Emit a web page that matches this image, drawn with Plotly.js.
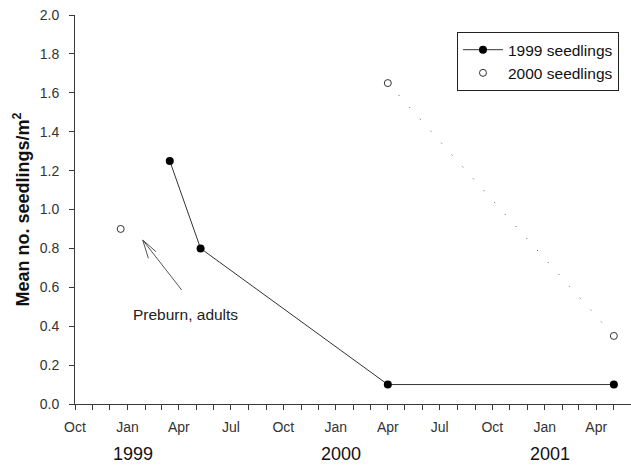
<!DOCTYPE html>
<html>
<head>
<meta charset="utf-8">
<script src="https://cdn.plot.ly/plotly-3.0.1.min.js"></script>
<style>
  html, body { margin: 0; padding: 0; background: #fff; }
  #chart { width: 631px; height: 465px; }
</style>
</head>
<body>
<div id="chart"></div>
<script>
// ---- data ----
const dates1999 = ['1999-03-16', '1999-05-09', '2000-04-01', '2001-05-02'];
const values1999 = [1.25, 0.80, 0.10, 0.10];
const dates2000 = ['2000-04-01', '2001-05-02'];
const values2000 = [1.65, 0.35];
const preburnDates = ['1998-12-20'];
const preburnValues = [0.90];
const yearLabels = ['1999', '2000', '2001'];
const yearLabelDates = ['1999-01-10', '2000-01-10', '2001-01-10'];

const FONT = 'Liberation Sans, Arial, sans-serif';
const AXIS_COLOR = '#3a3a3a';

const traces = [
  {
    x: dates1999, y: values1999, name: '1999 seedlings',
    mode: 'lines+markers', type: 'scatter',
    line: { color: '#333', width: 1 },
    marker: { color: '#000', size: 8, symbol: 'circle' }
  },
  {
    x: dates2000, y: values2000, name: '2000 seedlings line',
    mode: 'lines', type: 'scatter', showlegend: false, hoverinfo: 'skip',
    line: { color: '#444', width: 1, dash: '1px,15px' }
  },
  {
    x: dates2000, y: values2000, name: '2000 seedlings',
    mode: 'markers', type: 'scatter',
    marker: { color: '#fff', size: 7, symbol: 'circle', line: { color: '#333', width: 1 } }
  },
  {
    x: preburnDates, y: preburnValues, name: 'Preburn, adults',
    mode: 'markers', type: 'scatter', showlegend: false,
    marker: { color: '#fff', size: 7, symbol: 'circle', line: { color: '#333', width: 1 } }
  }
];

const annotations = yearLabels.map((t, i) => ({
  x: yearLabelDates[i], xref: 'x', y: 0, yref: 'paper', yshift: -50,
  text: t, showarrow: false, xanchor: 'center', yanchor: 'middle',
  font: { family: FONT, size: 18, color: '#111' }
}));

annotations.push({
  x: 0.198, y: 0.231, xref: 'paper', yref: 'paper',
  text: 'Preburn, adults', showarrow: false, xanchor: 'center', yanchor: 'middle',
  font: { family: FONT, size: 15.5, color: '#222' }
});

// arrow pointing at the preburn marker, drawn as plain lines
const arrowLine = { color: '#555', width: 1 };
const shapes = [
  { type: 'line', xref: 'paper', yref: 'paper', x0: 0.19191, y0: 0.29306, x1: 0.12176, y1: 0.42159, line: arrowLine },
  { type: 'line', xref: 'paper', yref: 'paper', x0: 0.12176, y0: 0.42159, x1: 0.14568, y1: 0.39152, line: arrowLine },
  { type: 'line', xref: 'paper', yref: 'paper', x0: 0.12176, y0: 0.42159, x1: 0.13201, y1: 0.37455, line: arrowLine }
];

const layout = {
  width: 631, height: 465,
  margin: { l: 75, r: 0, t: 15, b: 61 },
  paper_bgcolor: '#fff', plot_bgcolor: '#fff',
  font: { family: FONT, color: '#222' },
  showlegend: true,
  legend: {
    x: 0.687, y: 0.956, xanchor: 'left', yanchor: 'top',
    bgcolor: '#fff', bordercolor: '#222', borderwidth: 1,
    font: { family: FONT, size: 15.5, color: '#111' },
    itemwidth: 40, tracegroupgap: 0
  },
  xaxis: {
    type: 'date',
    range: ['1998-10-01', '2001-06-01'],
    tickmode: 'linear', tick0: '1998-10-01', dtick: 'M3', tickformat: '%b',
    ticks: 'outside', ticklen: 5, tickwidth: 1, tickcolor: AXIS_COLOR,
    minor: { tickmode: 'linear', tick0: '1998-10-01', dtick: 'M1', ticks: 'outside', ticklen: 5, tickwidth: 1, tickcolor: AXIS_COLOR, showgrid: false },
    showline: true, linecolor: AXIS_COLOR, linewidth: 1,
    showgrid: false, zeroline: false,
    tickfont: { family: FONT, size: 14, color: '#333' },
    ticklabelstandoff: 5
  },
  yaxis: {
    range: [0, 2.0],
    tickmode: 'linear', tick0: 0, dtick: 0.2, tickformat: '.1f',
    ticks: 'outside', ticklen: 5, tickwidth: 1, tickcolor: AXIS_COLOR,
    showline: true, linecolor: AXIS_COLOR, linewidth: 1,
    showgrid: false, zeroline: false,
    tickfont: { family: FONT, size: 14, color: '#333' },
    ticklabelstandoff: 7,
    title: {
      text: 'Mean no. seedlings/m<sup>2</sup>',
      font: { family: FONT, size: 18, color: '#111', weight: 'bold' },
      standoff: 5
    }
  },
  shapes: shapes,
  annotations: annotations
};

Plotly.newPlot('chart', traces, layout, { displayModeBar: false, staticPlot: true });
</script>
</body>
</html>
